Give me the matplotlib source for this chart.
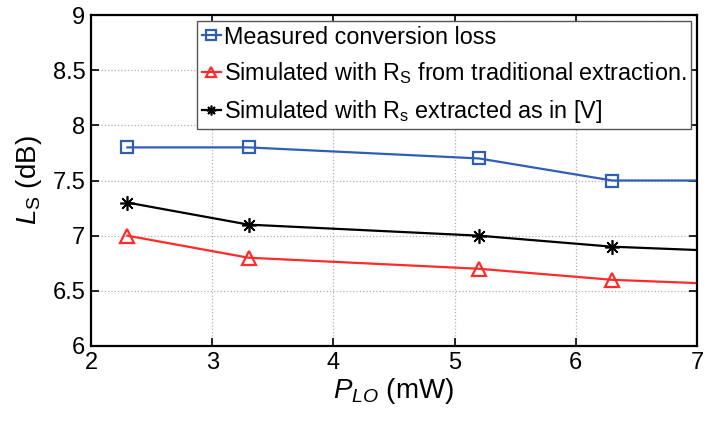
import matplotlib
matplotlib.use("Agg")
import matplotlib.pyplot as plt

plt.rcParams['font.family'] = ['Liberation Sans', 'DejaVu Sans']
plt.rcParams['mathtext.fontset'] = 'custom'
plt.rcParams['mathtext.rm'] = 'Liberation Sans'
plt.rcParams['mathtext.it'] = 'Liberation Sans:italic'

# LO power (mW) and conversion loss (dB)
p_lo = [2.3, 3.3, 5.2, 6.3, 7.0]
measured = [7.8, 7.8, 7.7, 7.5, 7.5]
sim_traditional = [7.0, 6.8, 6.7, 6.6, 6.57]
sim_extracted = [7.3, 7.1, 7.0, 6.9, 6.87]
n_marked = 4  # last point only extends the line to the axis edge

labels = [
    'Measured conversion loss',
    r'Simulated with R$_\mathregular{S}$ from traditional extraction.',
    r'Simulated with R$_\mathregular{s}$ extracted as in [V]',
]

fig = plt.figure(figsize=(7.07, 4.21), dpi=100)
ax = fig.add_axes([91/707, 75/421, 606/707, 331/421])

asterisk = (8, 2, 0)
series = [
    (measured, '#2f5fb5', 's', 8, 'none', 1.6),
    (sim_traditional, '#ff2a2a', '^', 9.5, 'none', 1.6),
    (sim_extracted, 'black', asterisk, 10.5, 'black', 1.2),
]
for (vals, col, mk, ms, mfc, mew), lab in zip(series, labels):
    ax.plot(p_lo, vals, color=col, lw=1.6, marker=mk, markevery=list(range(n_marked)),
            markersize=ms, markerfacecolor=mfc, markeredgecolor=col,
            markeredgewidth=mew, label=lab)

ax.set_xlim(2, 7)
ax.set_ylim(6, 9)
ax.set_xticks([2, 3, 4, 5, 6, 7])
ax.set_yticks([6, 6.5, 7, 7.5, 8, 8.5, 9])
ax.set_yticklabels(['6', '6.5', '7', '7.5', '8', '8.5', '9'])
ax.grid(True, color='#b0b0b0', linestyle=':', linewidth=0.9)
ax.tick_params(direction='in', top=True, right=True, labelsize=17, length=6, width=1.2, pad=4)
for s in ax.spines.values():
    s.set_linewidth(1.6)

ax.set_xlabel(r'$\mathit{P}_{\mathit{LO}}$ (mW)', fontsize=20, labelpad=2)
ax.set_ylabel(r'$\mathit{L}_\mathregular{S}$ (dB)', fontsize=20, labelpad=6)

leg = ax.legend(loc='upper right', fontsize=16.8, handlelength=0.8, handletextpad=0.15,
                borderpad=0.2, labelspacing=0.5, borderaxespad=0.25,
                fancybox=False, edgecolor='#555555', framealpha=1)
leg.get_frame().set_linewidth(1.0)
for h in leg.legend_handles:
    h.set_markersize(7)

fig.savefig('out.png', dpi=100)
